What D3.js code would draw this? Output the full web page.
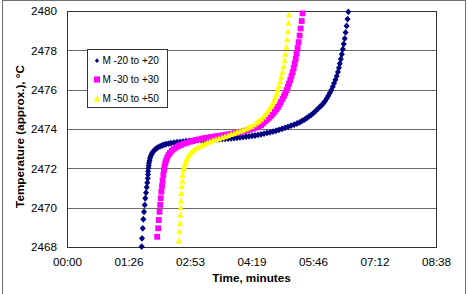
<!DOCTYPE html>
<html>
<head>
<meta charset="utf-8">
<script src="https://cdn.jsdelivr.net/npm/d3@7"></script>
<style>
body { margin: 0; background: #fff; }
svg { display: block; font-family: Arial, "Liberation Sans", sans-serif; }
</style>
</head>
<body>
<svg width="468" height="294"></svg>
<script>
// time in seconds, temperature in degrees C
var seriesNames = ['M -20 to +20', 'M -30 to +30', 'M -50 to +50'];
var seriesColors = ['#000080', '#ff00ff', '#ffff00'];
var xTicks = [0, 86.4, 172.8, 259.2, 345.6, 432, 518.4];
var yTicks = [2468, 2470, 2472, 2474, 2476, 2478, 2480];

var m20 = [[104.9,2468.02],[105.4,2468.44],[106.4,2468.95],[107.2,2469.41],[108.2,2469.79],[109.2,2470.14],[110.0,2470.48],[111.0,2470.76],[112.0,2471.04],[112.8,2471.27],[113.5,2471.49],[113.8,2471.69],[113.9,2471.85],[114.4,2472.01],[114.8,2472.14],[115.2,2472.27],[115.9,2472.39],[116.6,2472.51],[117.6,2472.62],[118.7,2472.71],[120.1,2472.80],[121.5,2472.88],[123.6,2472.95],[125.7,2473.01],[127.8,2473.07],[130.7,2473.12],[133.5,2473.16],[136.3,2473.20],[139.1,2473.23],[142.6,2473.26],[146.1,2473.28],[150.3,2473.31],[154.5,2473.33],[158.8,2473.35],[163.0,2473.36],[167.2,2473.38],[171.4,2473.39],[175.6,2473.40],[179.8,2473.42],[184.0,2473.43],[188.3,2473.44],[192.5,2473.44],[196.7,2473.45],[200.9,2473.46],[205.1,2473.47],[209.3,2473.47],[213.5,2473.48],[217.8,2473.49],[222.0,2473.50],[226.2,2473.51],[230.4,2473.52],[234.6,2473.54],[238.8,2473.55],[243.0,2473.57],[247.3,2473.59],[251.5,2473.61],[255.7,2473.63],[259.9,2473.65],[264.1,2473.67],[268.3,2473.70],[272.6,2473.73],[276.8,2473.76],[281.0,2473.80],[285.2,2473.83],[289.4,2473.87],[293.6,2473.91],[297.8,2473.96],[302.1,2474.01],[306.3,2474.06],[310.5,2474.11],[314.7,2474.17],[318.9,2474.22],[323.1,2474.28],[326.9,2474.34],[330.2,2474.41],[333.7,2474.48],[336.9,2474.56],[340.0,2474.64],[343.2,2474.72],[346.3,2474.81],[349.4,2474.92],[352.3,2475.02],[355.2,2475.12],[358.0,2475.22],[360.4,2475.32],[362.7,2475.43],[365.0,2475.56],[367.1,2475.69],[369.2,2475.83],[371.3,2475.98],[373.4,2476.15],[375.2,2476.32],[377.1,2476.50],[378.9,2476.69],[380.6,2476.90],[382.0,2477.11],[383.3,2477.33],[384.7,2477.56],[386.1,2477.80],[387.5,2478.06],[388.7,2478.32],[390.1,2478.60],[391.4,2478.91],[392.8,2479.24],[394.1,2479.59],[395.2,2479.96]];

var m30 = [[126.7,2468.52],[128.1,2468.95],[129.0,2469.37],[130.0,2469.79],[130.9,2470.14],[131.8,2470.48],[132.6,2470.81],[133.5,2471.10],[134.3,2471.37],[135.3,2471.66],[136.3,2471.92],[137.0,2472.09],[138.0,2472.26],[139.1,2472.40],[140.8,2472.55],[142.6,2472.68],[144.7,2472.79],[147.2,2472.90],[150.0,2472.99],[153.1,2473.06],[156.6,2473.13],[160.2,2473.19],[164.4,2473.25],[168.6,2473.30],[172.8,2473.35],[177.0,2473.39],[181.2,2473.44],[185.4,2473.47],[189.7,2473.51],[193.9,2473.54],[198.1,2473.56],[202.3,2473.59],[206.5,2473.61],[210.7,2473.64],[214.9,2473.66],[219.2,2473.68],[223.4,2473.71],[227.6,2473.73],[231.8,2473.76],[236.0,2473.79],[240.2,2473.82],[244.5,2473.85],[248.7,2473.89],[252.9,2473.93],[257.1,2473.97],[261.3,2474.02],[265.5,2474.07],[269.0,2474.12],[272.6,2474.19],[275.6,2474.29],[278.6,2474.39],[281.4,2474.48],[284.2,2474.57],[286.9,2474.67],[289.4,2474.77],[291.9,2474.88],[294.2,2475.00],[296.4,2475.12],[298.7,2475.25],[300.6,2475.38],[302.8,2475.53],[304.9,2475.68],[306.7,2475.83],[308.4,2475.98],[310.2,2476.15],[311.9,2476.31],[313.6,2476.49],[315.3,2476.68],[316.9,2476.88],[318.5,2477.10],[319.9,2477.33],[321.3,2477.57],[322.6,2477.84],[324.0,2478.12],[325.4,2478.42],[326.8,2478.75],[328.2,2479.11],[329.7,2479.49],[330.9,2479.88]];

var m50 = [[157.1,2468.31],[157.8,2468.78],[158.8,2469.21],[159.2,2469.63],[159.7,2470.00],[160.2,2470.35],[160.6,2470.73],[161.1,2471.07],[162.0,2471.37],[162.5,2471.66],[163.4,2471.92],[164.4,2472.06],[165.5,2472.21],[166.8,2472.35],[168.3,2472.48],[170.1,2472.61],[172.2,2472.72],[174.6,2472.82],[177.3,2472.91],[180.2,2472.99],[183.5,2473.06],[186.9,2473.13],[190.4,2473.19],[193.9,2473.25],[197.4,2473.31],[200.9,2473.36],[205.1,2473.42],[209.3,2473.47],[213.5,2473.52],[217.8,2473.57],[222.0,2473.62],[226.2,2473.67],[230.4,2473.73],[234.6,2473.78],[238.8,2473.84],[243.0,2473.89],[247.3,2473.95],[251.5,2474.01],[255.3,2474.07],[259.1,2474.14],[262.7,2474.22],[266.2,2474.31],[269.7,2474.41],[273.0,2474.51],[275.9,2474.62],[278.7,2474.74],[281.4,2474.86],[283.9,2475.00],[286.3,2475.14],[288.6,2475.29],[290.7,2475.44],[292.6,2475.61],[294.5,2475.79],[296.2,2475.98],[297.8,2476.19],[299.5,2476.41],[301.1,2476.64],[302.6,2476.90],[304.2,2477.18],[305.6,2477.48],[306.8,2477.81],[308.1,2478.17],[309.2,2478.55],[310.2,2478.96],[311.0,2479.39],[311.9,2479.82]];

var allSeries = [m20, m30, m50];

var svg = d3.select('svg');
var width = +svg.attr('width');
var height = +svg.attr('height');

var plot = { left: 67, top: 11, right: 436, bottom: 247 };

var xScale = d3.scaleLinear().domain([0, 518.4]).range([plot.left, plot.right]);
var yScale = d3.scaleLinear().domain([2468, 2480]).range([plot.bottom, plot.top]);

function mmss(s) {
    var r = Math.round(s);
    var m = Math.floor(r / 60), sec = r % 60;
    return (m < 10 ? '0' : '') + m + ':' + (sec < 10 ? '0' : '') + sec;
}

// chart area border
svg.append('rect')
    .attr('x', 2.5).attr('y', 0.5)
    .attr('width', 463).attr('height', 310)
    .attr('fill', '#fff')
    .attr('stroke', '#6e6e6e');

// gridlines
svg.append('g').selectAll('line')
    .data(yTicks.slice(1, -1))
    .enter()
    .append('line')
    .attr('x1', plot.left).attr('x2', plot.right)
    .attr('y1', function(d) { return Math.round(yScale(d)) + 0.5; })
    .attr('y2', function(d) { return Math.round(yScale(d)) + 0.5; })
    .attr('stroke', '#6a6a6a')
    .attr('stroke-width', 1);

// plot frame
svg.append('rect')
    .attr('x', plot.left + 0.5).attr('y', plot.top + 0.5)
    .attr('width', plot.right - plot.left).attr('height', plot.bottom - plot.top)
    .attr('fill', 'none')
    .attr('stroke', '#333');

var xAxis = d3.axisBottom(xScale)
    .tickValues(xTicks)
    .tickFormat(mmss)
    .tickSize(0)
    .tickPadding(11);

var yAxis = d3.axisLeft(yScale)
    .tickValues(yTicks)
    .tickFormat(d3.format('d'))
    .tickSize(0)
    .tickPadding(10);

var xG = svg.append('g')
    .attr('transform', 'translate(0,' + plot.bottom + ')')
    .call(xAxis);
var yG = svg.append('g')
    .attr('transform', 'translate(' + plot.left + ',0)')
    .call(yAxis);

[xG, yG].forEach(function(g) {
    g.select('.domain').remove();
    g.selectAll('text')
        .attr('fill', '#000')
        .style('font-size', '11.7px')
        .style('font-family', 'Arial, "Liberation Sans", sans-serif');
});

// marker shapes
var shapes = [
    function(sel, k) { // diamond
        sel.append('path').attr('d', 'M0,' + (-3.4 * k) + 'L' + (3 * k) + ',0L0,' + (3.4 * k) + 'L' + (-3 * k) + ',0Z');
    },
    function(sel, k) { // square
        sel.append('rect').attr('x', -2.9 * k).attr('y', -2.9 * k).attr('width', 5.8 * k).attr('height', 5.8 * k);
    },
    function(sel, k) { // triangle
        sel.append('path').attr('d', 'M0,' + (-3.3 * k) + 'L' + (3.1 * k) + ',' + (2.7 * k) + 'L' + (-3.1 * k) + ',' + (2.7 * k) + 'Z');
    }
];

allSeries.forEach(function(data, i) {
    var g = svg.append('g').attr('fill', seriesColors[i]);
    var pts = g.selectAll('.pt')
        .data(data)
        .enter()
        .append('g')
        .attr('class', 'pt')
        .attr('transform', function(d) {
            return 'translate(' + xScale(d[0]) + ',' + yScale(d[1]) + ')';
        });
    pts.each(function() { shapes[i](d3.select(this), 1); });
});

// legend
var legend = svg.append('g');
legend.append('rect')
    .attr('x', 87.5).attr('y', 49.5)
    .attr('width', 80).attr('height', 58)
    .attr('fill', '#fff')
    .attr('stroke', '#333');

var legendSizes = [0.7, 1.05, 1.0];
var legendY = [60.7, 79.5, 98.7];
seriesNames.forEach(function(name, i) {
    var item = legend.append('g')
        .attr('transform', 'translate(97,' + legendY[i] + ')');
    var m = item.append('g').attr('fill', seriesColors[i]);
    shapes[i](m, legendSizes[i]);
    item.append('text')
        .attr('x', 5.5)
        .attr('y', 3.6)
        .style('font-size', '10px')
        .text(name);
});

// axis titles
svg.append('text')
    .attr('x', 251.5)
    .attr('y', 281.5)
    .attr('text-anchor', 'middle')
    .style('font-size', '11.7px')
    .style('font-weight', 'bold')
    .text('Time, minutes');

svg.append('text')
    .attr('transform', 'translate(23.5,136.5) rotate(-90)')
    .attr('text-anchor', 'middle')
    .style('font-size', '11.7px')
    .style('font-weight', 'bold')
    .text('Temperature (approx.), °C');
</script>
</body>
</html>
